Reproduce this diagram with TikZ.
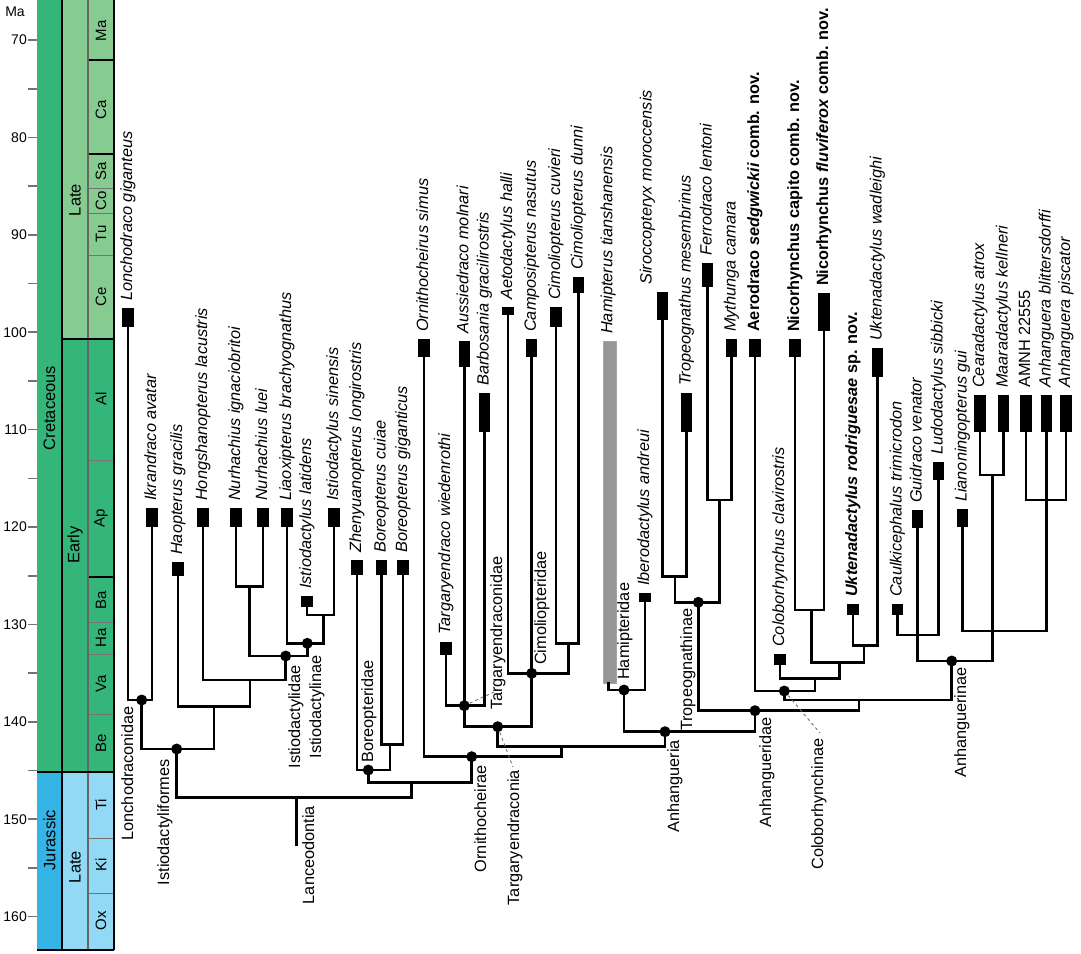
\documentclass[tikz,border=0pt]{standalone}
\usepackage{fontspec}
\setmainfont{Liberation Sans}
\usetikzlibrary{calc}

\definecolor{crdark}{RGB}{52,181,122}
\definecolor{crlight}{RGB}{134,204,145}
\definecolor{judark}{RGB}{53,180,230}
\definecolor{julight}{RGB}{146,217,246}
\definecolor{hamgray}{RGB}{150,150,150}

% bar + label of one terminal taxon: [label shift]{name}{x}{top}{bottom}{text}
\newcommand{\taxbar}[6][0]{%
  \fill (#3-5.75,#4) rectangle (#3+5.75,#5);
  \coordinate (#2) at (#3,#5);
  \node[taxon] (#2-lbl) at ($(#3,#4)+(#1,-7)$) {#6};}

\begin{document}
\begin{tikzpicture}[
    x=1pt, y=-1pt,
    every node/.style={inner sep=0pt},
    tree/.style={line width=2.6pt, line cap=rect},
    taxon/.style={rotate=90, anchor=west, font=\fontsize{16.3}{18}\selectfont\itshape, text height=11.5pt, text depth=3.4pt},
    clade/.style={rotate=90, font=\fontsize{16.3}{18}\selectfont, text height=11.5pt, text depth=3.4pt},
    below clade/.style={clade, anchor=east},
    above clade/.style={clade, anchor=west},
    pointer/.style={draw=black!55, dashed, line width=0.9pt},
    period/.style={rotate=90, font=\fontsize{16.5}{18}\selectfont},
    stagelbl/.style={rotate=90, font=\fontsize{15}{17}\selectfont},
    manum/.style={anchor=east, font=\fontsize{14}{16}\selectfont},
    matick/.style={draw=black!55, line width=1.6pt},
    stageline/.style={draw=black!55, line width=1pt}
]
\useasboundingbox (0,0) rectangle (1081,953);

% TIMESCALE
\fill[crdark] (37,0) rectangle (62,772);
\fill[judark] (37,772) rectangle (62,950);
\fill[crlight] (62,0) rectangle (114,339);
\fill[crdark] (62,339) rectangle (114,772);
\fill[julight] (62,772) rectangle (114,950);
\foreach \yy in {188,213,255,460,622,654,714,838,893}
    \draw[stageline] (88,\yy) -- (114,\yy);
\draw[line width=1.2pt] (88,60) -- (114,60) (88,154) -- (114,154) (88,577) -- (114,577);
\draw[line width=1.2pt, black!60] (88,0) -- (88,950);
\draw[line width=1.2pt] (62,0) -- (62,950) (114,0) -- (114,950)
    (62,339) -- (114,339) (37,772) -- (114,772) (37,950) -- (114,950);

\foreach \m in {70,75,...,160}
    \draw[matick] (28,{40+(\m-70)*9.74}) -- (37,{40+(\m-70)*9.74});
\foreach \m in {70,80,...,160}
    \node[manum] (ma\m) at (27,{40+(\m-70)*9.74}) {\m};
\node[manum, anchor=center] (maunit) at (15,12) {Ma};

\node[period] (cret) at (49.5,408) {Cretaceous};
\node[period] (jura) at (49.5,840) {Jurassic};
\node[period] (lateK) at (75,200) {Late};
\node[period] (earlyK) at (75,545) {Early};
\node[period] (lateJ) at (75,867) {Late};
\foreach \s/\yy in {Ma/31,Ca/110,Sa/171,Co/200.5,Tu/234,Ce/297,Al/399,Ap/518,Ba/600,Ha/638,Va/684,Be/743,Ti/805,Ki/865,Ox/921}
    \node[stagelbl] (st\s) at (101,\yy) {\s};

% TERMINAL TAXA
\taxbar{lon}{128}{308}{327}{Lonchodraco giganteus}
\taxbar{ikr}{152}{508}{527}{Ikrandraco avatar}
\taxbar{hao}{178}{562}{576}{Haopterus gracilis}
\taxbar{hon}{203}{508}{527}{Hongshanopterus lacustris}
\taxbar{nig}{236}{508}{527}{Nurhachius ignaciobritoi}
\taxbar{nlu}{263}{508}{527}{Nurhachius luei}
\taxbar{lia}{287}{508}{527}{Liaoxipterus brachyognathus}
\taxbar{ila}{307}{596}{607}{Istiodactylus latidens}
\taxbar{isi}{334}{508}{527}{Istiodactylus sinensis}
\taxbar{zhe}{357}{560}{575}{Zhenyuanopterus longirostris}
\taxbar{bcu}{381.5}{560}{575}{Boreopterus cuiae}
\taxbar{bgi}{403}{560}{575}{Boreopterus giganticus}
\taxbar{osi}{424}{339}{357}{Ornithocheirus simus}
\taxbar{twi}{446}{642}{655}{Targaryendraco wiedenrothi}
\taxbar{amo}{464.3}{341}{367}{Aussiedraco molnari}
\taxbar{bgr}{484.5}{393}{432}{Barbosania gracilirostris}
\taxbar{aha}{508}{307}{315}{Aetodactylus halli}
\taxbar{cna}{531.7}{339}{357}{Camposipterus nasutus}
\taxbar{ccu}{556}{307}{327}{Cimoliopterus cuvieri}
\taxbar{cdu}{578.5}{277}{293}{Cimoliopterus dunni}
\taxbar{ibe}{645}{593}{602}{Iberodactylus andreui}
\taxbar[-15]{smo}{662.5}{292}{320}{Siroccopteryx moroccensis}
\taxbar{tme}{686.5}{393}{432}{Tropeognathus mesembrinus}
\taxbar{fle}{707.5}{263}{287}{Ferrodraco lentoni}
\taxbar{mca}{731.5}{339}{357}{Mythunga camara}
\taxbar{ase}{755}{339}{357}{\bfseries\textup{Aerodraco} sedgwickii \textup{comb. nov.}}
\taxbar{ccl}{780}{654}{665}{Coloborhynchus clavirostris}
\taxbar{nca}{795}{339}{357}{\bfseries\upshape Nicorhynchus capito comb. nov.}
\taxbar{nfl}{824}{293}{331}{\bfseries\upshape Nicorhynchus \textit{fluviferox} comb. nov.}
\taxbar{uro}{853}{604}{615}{\bfseries Uktenadactylus rodriguesae \textup{sp. nov.}}
\taxbar{uwa}{877.5}{348}{377}{Uktenadactylus wadleighi}
\taxbar{ctr}{897.5}{604}{615}{Caulkicephalus trimicrodon}
\taxbar{gve}{917.5}{510}{528}{Guidraco venator}
\taxbar{lsi}{938.5}{462}{480}{Ludodactylus sibbicki}
\taxbar{lgu}{962.5}{509}{527}{Lianoningopterus gui}
\taxbar{cat}{980}{395}{432}{Cearadactylus atrox}
\taxbar{mke}{1003.5}{395}{432}{Maaradactylus kellneri}
\taxbar{amnh}{1026}{395}{432}{\upshape AMNH 22555}
\taxbar{abl}{1046.5}{395}{432}{Anhanguera blittersdorffi}
\taxbar{api}{1066}{395}{432}{Anhanguera piscator}

% Hamipterus range
\filldraw[fill=hamgray, draw=black!35, line width=0.6pt] (603,341) rectangle (616,683);
\coordinate (hamT) at (608.3,683);
\node[taxon] (ham-lbl) at (608.3,334) {Hamipterus tianshanensis};

% INTERNAL NODES
\coordinate (lonchN) at (141.7,700);
\coordinate (istfN) at (176.7,749);
\coordinate (haoN) at (214,706.7);
\coordinate (honN) at (250,680);
\coordinate (istdN) at (285.7,656);
\coordinate (istnN) at (307.3,643.3);
\coordinate (latsinN) at (323.3,615);
\coordinate (nurN) at (249.3,586.7);
\coordinate (lanN) at (296.7,797.3);
\coordinate (rootE) at (296.7,845);
\coordinate (borN) at (368.3,770);
\coordinate (bcgN) at (390,744.3);
\coordinate (ornBaseN) at (411.7,782.7);
\coordinate (ornN) at (471.7,756.7);
\coordinate (ornrN) at (561.7,746.7);
\coordinate (tgyN) at (497.7,726.7);
\coordinate (tgdN) at (464.3,705.7);
\coordinate (cimN) at (531.7,673.3);
\coordinate (cpN) at (568.3,643.3);
\coordinate (anhN) at (665,731.7);
\coordinate (hamN) at (624,690);
\coordinate (anhdN) at (755,710.7);
\coordinate (tropN) at (698.3,602.3);
\coordinate (stN) at (675,576.7);
\coordinate (fmN) at (719.3,500);
\coordinate (cnN) at (859,700);
\coordinate (colN) at (784.3,691);
\coordinate (c1N) at (815,678.3);
\coordinate (c2N) at (839.3,662.7);
\coordinate (nicN) at (811.7,610);
\coordinate (uktN) at (864,645.7);
\coordinate (anhnN) at (951.7,661);
\coordinate (clN) at (917.5,635);
\coordinate (cmN) at (992.7,475);
\coordinate (laN) at (992.7,631);
\coordinate (agN) at (1046.5,500);

% BRANCHES
\draw[tree] (lon) |- (lonchN) (ikr) |- (lonchN) (lonchN) |- (istfN)
    (hao) |- (haoN) (hon) |- (honN) (honN) |- (haoN) (haoN) |- (istfN)
    (nig) |- (nurN) (nlu) |- (nurN) (nurN) |- (istdN) (istdN) |- (honN)
    (lia) |- (istnN) (ila) |- (latsinN) (isi) |- (latsinN) (latsinN) |- (istnN) (istnN) |- (istdN)
    (istfN) |- (lanN) (ornBaseN) |- (lanN) (lanN) -- (rootE);
\draw[tree] (zhe) |- (borN) (bcu) |- (bcgN) (bgi) |- (bcgN) (bcgN) |- (borN)
    (borN) |- (ornBaseN) (ornN) |- (ornBaseN)
    (osi) |- (ornN) (ornrN) |- (ornN) (tgyN) |- (ornrN) (anhN) |- (ornrN)
    (twi) |- (tgdN) (amo) |- (tgdN) (bgr) |- (tgdN) (tgdN) |- (tgyN)
    (aha) |- (cimN) (cna) |- (cimN) (ccu) |- (cpN) (cdu) |- (cpN) (cpN) |- (cimN) (cimN) |- (tgyN);
\draw[tree] (hamT) |- (hamN) (ibe) |- (hamN) (hamN) |- (anhN) (anhdN) |- (anhN)
    (smo) |- (stN) (tme) |- (stN) (fle) |- (fmN) (mca) |- (fmN) (stN) |- (tropN) (fmN) |- (tropN)
    (tropN) |- (anhdN) (cnN) |- (anhdN);
\draw[tree] (colN) |- (cnN) (anhnN) |- (cnN)
    (ase) |- (colN) (c1N) |- (colN) (ccl) |- (c1N) (c2N) |- (c1N)
    (nca) |- (nicN) (nfl) |- (nicN) (nicN) |- (c2N) (uro) |- (uktN) (uwa) |- (uktN) (uktN) |- (c2N)
    (gve) |- (anhnN) (ctr) |- (clN) (lsi) |- (clN) (cmN) |- (anhnN)
    (cat) |- (cmN) (mke) |- (cmN) (lgu) |- (laN) (agN) |- (laN)
    (amnh) |- (agN) (abl) |- (agN) (api) |- (agN);

% POINTERS
\coordinate (tgdP) at (494,692);
\coordinate (tgyP) at (513,767);
\coordinate (colP) at (820,733);
\draw[pointer] (tgdN) -- (tgdP);
\draw[pointer] (tgyN) -- (tgyP);
\draw[pointer] (colN) -- (colP);

% NODE DOTS
\foreach \n in {lonchN,istfN,istdN,istnN,borN,ornN,tgdN,tgyN,cimN,hamN,anhN,tropN,anhdN,colN,anhnN}
    \fill (\n) circle[radius=5.5pt];

% CLADE LABELS
\node[below clade] (lonch-lbl) at (129,706) {Lonchodraconidae};
\node[below clade] (istf-lbl) at (165,759) {Istiodactyliformes};
\node[below clade] (istd-lbl) at (296,665) {Istiodactylidae};
\node[below clade] (istn-lbl) at (317,655) {Istiodactylinae};
\node[below clade] (lanc-lbl) at (310,806) {Lanceodontia};
\node[above clade] (bor-lbl) at (369,763) {Boreopteridae};
\node[below clade] (orn-lbl) at (482,765) {Ornithocheirae};
\node[above clade] (tgd-lbl) at (498,710) {Targaryendraconidae};
\node[below clade] (tgy-lbl) at (515,770) {Targaryendraconia};
\node[above clade] (cim-lbl) at (542,665) {Cimoliopteridae};
\node[above clade] (hamd-lbl) at (625,680) {Hamipteridae};
\node[below clade] (anh-lbl) at (675,740) {Anhangueria};
\node[below clade] (trop-lbl) at (688,608) {Tropeognathinae};
\node[below clade] (anhd-lbl) at (767,717) {Anhangueridae};
\node[below clade] (col-lbl) at (819,738) {Coloborhynchinae};
\node[below clade] (anhn-lbl) at (962,667) {Anhanguerinae};

\end{tikzpicture}
\end{document}
